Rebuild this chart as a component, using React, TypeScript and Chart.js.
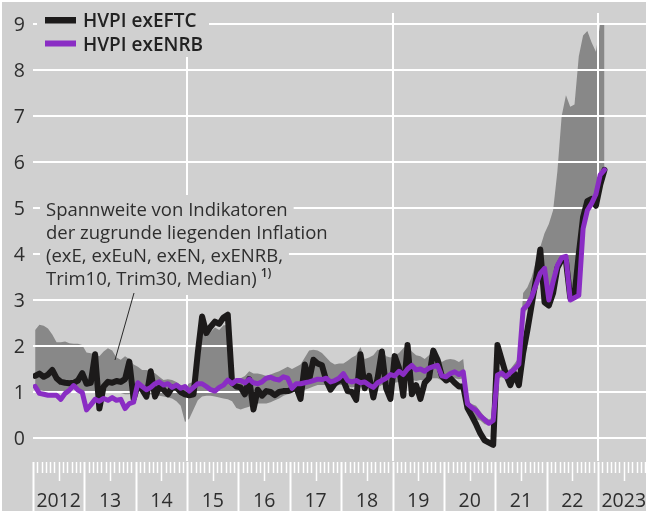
import React, { useEffect, useRef } from 'react';
import { Chart, registerables } from 'chart.js';
Chart.register(...registerables);

// Monthly data, Jan 2012 .. Feb 2023 (index 0 = Jan 2012)
const exEFTC = [
  1.35, 1.40, 1.33, 1.38, 1.48, 1.30, 1.22, 1.20, 1.19, 1.20, 1.25, 1.41,
  1.18, 1.20, 1.82, 0.64, 1.12, 1.22, 1.20, 1.24, 1.22, 1.28, 1.66, 0.85,
  1.15, 1.05, 0.90, 1.45, 0.90, 1.10, 1.05, 0.95, 1.10, 1.10, 1.00, 0.95,
  0.93, 0.95, 1.85, 2.64, 2.28, 2.42, 2.53, 2.48, 2.62, 2.68, 1.20, 1.12,
  1.10, 0.95, 1.28, 0.62, 1.05, 0.92, 1.02, 1.00, 0.93, 1.00, 1.02, 1.02,
  1.05, 1.10, 0.85, 1.60, 1.25, 1.70, 1.62, 1.58, 1.25, 1.05, 1.18, 1.25,
  1.25, 1.02, 1.00, 0.83, 1.82, 1.08, 1.35, 0.88, 1.30, 1.88, 1.08, 0.85,
  1.78, 1.52, 0.92, 2.02, 0.95, 1.15, 0.85, 1.20, 1.30, 1.90, 1.70, 1.35,
  1.25, 1.30, 1.20, 1.12, 1.12, 0.65, 0.48, 0.30, 0.10, -0.05, -0.10, -0.15,
  2.02, 1.70, 1.38, 1.15, 1.40, 1.15, 1.85, 2.35, 2.90, 3.45, 4.10, 2.95,
  2.88, 3.15, 3.70, 3.88, 3.85, 3.05, 3.10, 4.00, 4.80, 5.15, 5.20, 5.05,
  5.50, 5.83,
];

const exENRB = [
  1.12, 0.97, 0.95, 0.93, 0.93, 0.93, 0.84, 0.97, 1.04, 1.14, 1.04, 0.99,
  0.61, 0.72, 0.84, 0.80, 0.86, 0.82, 0.88, 0.82, 0.84, 0.64, 0.75, 0.78,
  1.20, 1.12, 1.05, 1.10, 1.18, 1.22, 1.15, 1.18, 1.10, 1.15, 1.08, 1.12,
  1.02, 1.10, 1.18, 1.18, 1.12, 1.05, 1.02, 1.10, 1.15, 1.26, 1.18, 1.25,
  1.25, 1.20, 1.28, 1.20, 1.18, 1.22, 1.30, 1.32, 1.28, 1.26, 1.33, 1.30,
  1.08, 1.18, 1.18, 1.20, 1.22, 1.25, 1.28, 1.27, 1.30, 1.22, 1.25, 1.30,
  1.40, 1.25, 1.22, 1.25, 1.20, 1.22, 1.15, 1.10, 1.20, 1.25, 1.30, 1.38,
  1.35, 1.45, 1.38, 1.50, 1.58, 1.48, 1.50, 1.45, 1.52, 1.55, 1.58, 1.35,
  1.33, 1.40, 1.44, 1.38, 1.44, 0.74, 0.66, 0.60, 0.48, 0.40, 0.32, 0.38,
  1.37, 1.41, 1.33, 1.42, 1.50, 1.60, 2.80, 2.89, 3.07, 3.33, 3.58, 3.69,
  3.00, 3.40, 3.75, 3.92, 3.95, 3.00, 3.05, 3.10, 4.55, 4.95, 5.10, 5.30,
  5.72, 5.83,
];

const rangeMax = [
  2.35, 2.46, 2.44, 2.38, 2.25, 2.08, 2.08, 2.10, 2.06, 2.05, 2.05, 2.02,
  1.86, 1.84, 1.82, 1.78, 1.88, 1.95, 1.90, 1.75, 1.70, 1.78, 1.72, 1.60,
  1.55, 1.48, 1.48, 1.45, 1.41, 1.33, 1.26, 1.28, 1.26, 1.22, 1.15, 1.12,
  1.19, 1.22, 1.70, 2.40, 2.20, 2.30, 2.40, 2.35, 2.45, 2.45, 1.25, 1.22,
  1.30, 1.35, 1.45, 1.40, 1.40, 1.38, 1.35, 1.38, 1.42, 1.45, 1.50, 1.55,
  1.50, 1.55, 1.60, 1.75, 1.90, 1.92, 1.90, 1.85, 1.75, 1.65, 1.60, 1.62,
  1.62, 1.68, 1.75, 1.80, 1.98, 1.72, 1.75, 1.80, 1.92, 1.90, 1.78, 1.75,
  1.80, 1.85, 1.95, 2.02, 1.88, 1.80, 1.78, 1.72, 1.80, 1.88, 1.80, 1.65,
  1.70, 1.72, 1.70, 1.65, 1.72, 0.82, 0.74, 0.70, 0.58, 0.46, 0.40, 0.45,
  1.50, 1.48, 1.45, 1.50, 1.62, 1.75, 3.15, 3.28, 3.50, 3.85, 4.15, 4.45,
  4.65, 4.95, 5.80, 7.00, 7.45, 7.20, 7.25, 8.30, 8.75, 8.85, 8.60, 8.40,
  9.00, 9.00,
];

const rangeMin = [
  1.10, 1.05, 1.02, 1.00, 1.00, 1.00, 1.00, 1.02, 1.05, 1.08, 1.05, 1.02,
  1.00, 1.00, 0.98, 0.96, 0.98, 1.00, 1.00, 0.98, 0.98, 0.95, 0.95, 1.00,
  1.05, 0.98, 0.92, 0.95, 0.92, 0.92, 0.90, 0.88, 0.86, 0.80, 0.70, 0.35,
  0.42, 0.62, 0.82, 0.90, 0.92, 0.92, 0.90, 0.88, 0.86, 0.84, 0.80, 0.65,
  0.62, 0.65, 0.68, 0.72, 0.75, 0.75, 0.75, 0.78, 0.82, 0.86, 0.92, 0.95,
  0.98, 1.02, 1.00, 1.05, 1.08, 1.12, 1.15, 1.15, 1.15, 1.12, 1.12, 1.15,
  1.15, 1.12, 1.10, 1.12, 1.10, 1.12, 1.08, 1.05, 1.10, 1.15, 1.15, 1.20,
  1.20, 1.22, 1.22, 1.25, 1.26, 1.24, 1.26, 1.25, 1.28, 1.30, 1.30, 1.25,
  1.25, 1.28, 1.30, 1.28, 1.30, 0.55, 0.42, 0.40, 0.38, 0.30, 0.28, 0.33,
  1.30, 1.32, 1.28, 1.30, 1.45, 1.55, 2.70, 2.80, 2.95, 3.25, 3.50, 2.95,
  2.88, 3.30, 3.65, 3.85, 3.88, 2.95, 3.00, 3.05, 4.50, 4.90, 5.05, 5.22,
  5.65, 5.78,
];

const yearLabels = ['2012', '13', '14', '15', '16', '17', '18', '19', '20', '21', '22', '2023'];
const yTicks = [0, 1, 2, 3, 4, 5, 6, 7, 8, 9];
const gridYears = [2015, 2019, 2023];
const legendLabels = ['HVPI exEFTC', 'HVPI exENRB'];
const noteLines = [
  'Spannweite von Indikatoren',
  'der zugrunde liegenden Inflation',
  '(exE, exEuN, exEN, exENRB,',
  'Trim10, Trim30, Median)',
];

const W = 646;
const H = 511;
const FONT = '"Open Sans", "DejaVu Sans", sans-serif';
const BG = '#d0d0d0';
const BAND = '#888888';
const BLACK = '#1c1a1a';
const PURPLE = '#8a2dc4';
const TEXT = '#2e2e2e';

export default function App() {
  const ref = useRef<HTMLCanvasElement>(null);

  useEffect(() => {
    document.body.style.margin = '0';
    const canvas = ref.current;
    if (!canvas) return;
    const toXY = (arr: number[]) => arr.map((v, i) => ({ x: i, y: v }));

    const plugin = {
      id: 'bbkStyle',
      beforeDraw(chart: any) {
        const ctx = chart.ctx;
        ctx.save();
        ctx.fillStyle = BG;
        ctx.fillRect(0, 0, W, H);
        ctx.fillStyle = '#ffffff';
        ctx.fillRect(0, 0, W, 2);
        ctx.fillRect(0, 0, 2, H);
        ctx.restore();
      },
      beforeDatasetDraw(chart: any, args: any) {
        if (args.index !== 1) return;
        const ctx = chart.ctx;
        const xs = chart.scales.x;
        const ys = chart.scales.y;
        const a = chart.chartArea;
        ctx.save();
        ctx.strokeStyle = '#ffffff';
        ctx.lineWidth = 2;
        yTicks.forEach((t) => {
          const y = Math.round(ys.getPixelForValue(t));
          ctx.beginPath();
          ctx.moveTo(a.left, y);
          ctx.lineTo(a.right, y);
          ctx.stroke();
        });
        gridYears.forEach((yr) => {
          const x = Math.round(xs.getPixelForValue((yr - 2012) * 12 - 0.5));
          ctx.beginPath();
          ctx.moveTo(x, a.top);
          ctx.lineTo(x, a.bottom);
          ctx.stroke();
        });
        ctx.restore();
      },
      afterDraw(chart: any) {
        const ctx = chart.ctx;
        const xs = chart.scales.x;
        const ys = chart.scales.y;
        const a = chart.chartArea;
        ctx.save();
        // x-axis ticks
        ctx.strokeStyle = '#ffffff';
        for (let k = 0; k <= 144; k++) {
          const x = Math.round(xs.getPixelForValue(k - 0.5)) + 0.5;
          if (x > W) break;
          const top = a.bottom + 1;
          let bottom = top + 11;
          ctx.lineWidth = 1.5;
          if (k % 12 === 0) {
            bottom = H;
            ctx.lineWidth = 2;
          } else if (k % 12 === 6) {
            bottom = top + 19;
          }
          ctx.beginPath();
          ctx.moveTo(x, top);
          ctx.lineTo(x, bottom);
          ctx.stroke();
        }
        // year labels
        ctx.fillStyle = TEXT;
        ctx.font = `19.5px ${FONT}`;
        ctx.textAlign = 'center';
        ctx.textBaseline = 'alphabetic';
        yearLabels.forEach((lab, i) => {
          const x = xs.getPixelForValue(i * 12 + 5.5);
          ctx.fillText(lab, x, 507);
        });
        // y labels
        ctx.textAlign = 'right';
        yTicks.forEach((t) => {
          const y = ys.getPixelForValue(t);
          ctx.fillText(String(t), 25, y + 7);
        });
        // legend
        ctx.fillStyle = BG;
        ctx.fillRect(37, a.top, 172, 44);
        ctx.fillStyle = BLACK;
        ctx.fillRect(45, 17, 31, 6.5);
        ctx.fillStyle = PURPLE;
        ctx.fillRect(45, 40.5, 31, 6);
        ctx.fillStyle = '#222222';
        ctx.textAlign = 'left';
        ctx.font = `600 19px ${FONT}`;
        ctx.fillText(legendLabels[0], 83, 27);
        ctx.fillText(legendLabels[1], 83, 50.5);
        // note block
        ctx.font = `18.5px ${FONT}`;
        const bls = [216, 239, 262, 285];
        noteLines.forEach((line, i) => {
          const w = ctx.measureText(line).width;
          ctx.fillStyle = BG;
          const extra = i === 3 ? 22 : 0;
          ctx.fillRect(40, bls[i] - 21, w + 12 + extra, i === 3 ? 31 : 23);
        });
        ctx.fillStyle = TEXT;
        noteLines.forEach((line, i) => {
          ctx.fillText(line, 46, bls[i]);
        });
        const w4 = ctx.measureText(noteLines[3]).width;
        ctx.font = `600 12px ${FONT}`;
        ctx.fillText('1)', 46 + w4 + 4, 277);
        // leader line
        ctx.strokeStyle = '#2a2a2a';
        ctx.lineWidth = 1;
        ctx.beginPath();
        ctx.moveTo(134, 293);
        ctx.lineTo(115, 360);
        ctx.stroke();
        ctx.restore();
      },
    };

    const chart = new Chart(canvas, {
      type: 'line',
      data: {
        datasets: [
          {
            label: legendLabels[1],
            data: toXY(exENRB),
            borderColor: PURPLE,
            borderWidth: 5,
            pointRadius: 0,
            fill: false,
            order: 0,
            borderJoinStyle: 'round',
            borderCapStyle: 'round',
          },
          {
            label: legendLabels[0],
            data: toXY(exEFTC),
            borderColor: BLACK,
            borderWidth: 6,
            pointRadius: 0,
            fill: false,
            order: 1,
            borderJoinStyle: 'round',
            borderCapStyle: 'round',
          },
          {
            label: 'max',
            data: toXY(rangeMax),
            borderColor: 'rgba(0,0,0,0)',
            borderWidth: 0,
            backgroundColor: BAND,
            pointRadius: 0,
            fill: '+1',
            order: 2,
          },
          {
            label: 'min',
            data: toXY(rangeMin),
            borderColor: 'rgba(0,0,0,0)',
            borderWidth: 0,
            pointRadius: 0,
            fill: false,
            order: 3,
          },
        ],
      } as any,
      options: {
        responsive: false,
        animation: false,
        events: [],
        layout: { padding: { left: 33, right: 0, top: 13, bottom: 50 } },
        scales: {
          x: { type: 'linear', min: -0.5, max: 142.7, display: false },
          y: { min: -0.5, max: 9.24, display: false },
        },
        plugins: { legend: { display: false }, tooltip: { enabled: false } },
      } as any,
      plugins: [plugin],
    });
    return () => chart.destroy();
  }, []);

  return (
    <div style={{ position: 'absolute', left: 0, top: 0, width: W, height: H }}>
      <canvas ref={ref} width={W} height={H} style={{ width: W, height: H, display: 'block' }} />
    </div>
  );
}
